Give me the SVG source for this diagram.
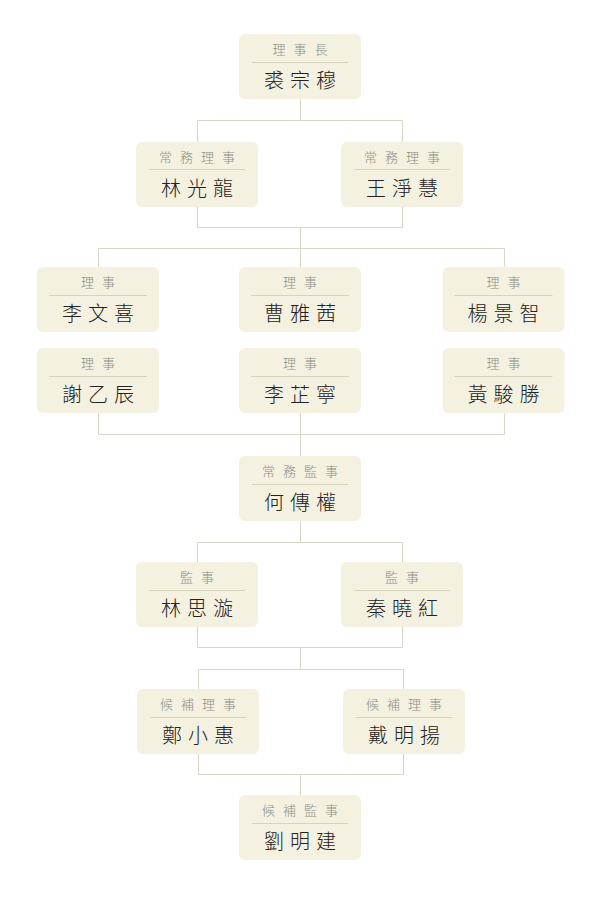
<svg xmlns="http://www.w3.org/2000/svg" width="600" height="900" viewBox="0 0 600 900">
<style>
.bg{fill:#ffffff}
.box{fill:#f4f1e1}
.div{stroke:#d8d4bc;stroke-width:1}
.conn{fill:none;stroke:#d9d6c9;stroke-width:1}
.lbl{font-family:"Noto Sans CJK TC","Noto Sans CJK SC",sans-serif;font-size:13px;font-weight:300;letter-spacing:8px;fill:#8e8e86;text-anchor:middle}
.nm{font-family:"Noto Sans CJK TC","Noto Sans CJK SC",sans-serif;font-size:20px;font-weight:300;letter-spacing:6px;fill:#222222;text-anchor:middle}
</style>
<defs>
<rect id="card" width="122" height="65" rx="6" ry="6" class="box"/>
</defs>
<rect class="bg" x="0" y="0" width="600" height="900"/>
<g id="connectors">
<path class="conn" d="M300.5 99 V120.5 M197.5 142 V120.5 H402.5 V142"/>
<path class="conn" d="M197.5 207 V227.5 H402.5 V207 M300.5 227.5 V267 M98.5 267 V248.5 H504.5 V267"/>
<path class="conn" d="M98.5 413 V434.5 H504.5 V413 M300.5 413 V456"/>
<path class="conn" d="M300.5 521 V542.5 M197.5 562 V542.5 H402.5 V562"/>
<path class="conn" d="M197.5 627 V647.5 H402.5 V627 M300.5 647.5 V669.5 M198.5 689 V669.5 H403.5 V689"/>
<path class="conn" d="M198.5 754 V774.5 H403.5 V754 M300.5 774.5 V795"/>
</g>
<g id="n-chair" transform="translate(239,34)">
<use href="#card"/><line class="div" x1="13" y1="28.5" x2="109" y2="28.5"/>
<text class="lbl" x="65" y="19.5">理事長</text><text class="nm" x="64" y="53.5">裘宗穆</text>
</g>
<g id="n-lin-guanglong" transform="translate(136,142)">
<use href="#card"/><line class="div" x1="13" y1="27.5" x2="109" y2="27.5"/>
<text class="lbl" x="65" y="19.5">常務理事</text><text class="nm" x="64" y="53.5">林光龍</text>
</g>
<g id="n-wang-jinghui" transform="translate(341,142)">
<use href="#card"/><line class="div" x1="13" y1="27.5" x2="109" y2="27.5"/>
<text class="lbl" x="65" y="19.5">常務理事</text><text class="nm" x="64" y="53.5">王淨慧</text>
</g>
<g id="n-li-wenxi" transform="translate(37,267)">
<use href="#card"/><line class="div" x1="12" y1="28.5" x2="110" y2="28.5"/>
<text class="lbl" x="65" y="19.5">理事</text><text class="nm" x="64" y="53.5">李文喜</text>
</g>
<g id="n-cao-yaxi" transform="translate(239,267)">
<use href="#card"/><line class="div" x1="12" y1="28.5" x2="110" y2="28.5"/>
<text class="lbl" x="65" y="19.5">理事</text><text class="nm" x="64" y="53.5">曹雅茜</text>
</g>
<g id="n-yang-jingzhi" transform="translate(442.5,267)">
<use href="#card"/><line class="div" x1="12" y1="28.5" x2="110" y2="28.5"/>
<text class="lbl" x="65" y="19.5">理事</text><text class="nm" x="64" y="53.5">楊景智</text>
</g>
<g id="n-xie-yichen" transform="translate(37,348)">
<use href="#card"/><line class="div" x1="12" y1="28.5" x2="110" y2="28.5"/>
<text class="lbl" x="65" y="19.5">理事</text><text class="nm" x="64" y="53.5">謝乙辰</text>
</g>
<g id="n-li-zhining" transform="translate(239,348)">
<use href="#card"/><line class="div" x1="12" y1="28.5" x2="110" y2="28.5"/>
<text class="lbl" x="65" y="19.5">理事</text><text class="nm" x="64" y="53.5">李芷寧</text>
</g>
<g id="n-huang-junsheng" transform="translate(442.5,348)">
<use href="#card"/><line class="div" x1="12" y1="28.5" x2="110" y2="28.5"/>
<text class="lbl" x="65" y="19.5">理事</text><text class="nm" x="64" y="53.5">黃駿勝</text>
</g>
<g id="n-he-chuanquan" transform="translate(239,456)">
<use href="#card"/><line class="div" x1="13" y1="28.5" x2="109" y2="28.5"/>
<text class="lbl" x="65" y="19.5">常務監事</text><text class="nm" x="64" y="53.5">何傳權</text>
</g>
<g id="n-lin-sixuan" transform="translate(136,562)">
<use href="#card"/><line class="div" x1="13" y1="28.5" x2="109" y2="28.5"/>
<text class="lbl" x="65" y="19.5">監事</text><text class="nm" x="64" y="53.5">林思漩</text>
</g>
<g id="n-qin-xiaohong" transform="translate(341,562)">
<use href="#card"/><line class="div" x1="13" y1="28.5" x2="109" y2="28.5"/>
<text class="lbl" x="65" y="19.5">監事</text><text class="nm" x="64" y="53.5">秦曉紅</text>
</g>
<g id="n-zheng-xiaohui" transform="translate(137,689)">
<use href="#card"/><line class="div" x1="13" y1="28.5" x2="109" y2="28.5"/>
<text class="lbl" x="65" y="19.5">候補理事</text><text class="nm" x="64" y="53.5">鄭小惠</text>
</g>
<g id="n-dai-mingyang" transform="translate(343,689)">
<use href="#card"/><line class="div" x1="13" y1="28.5" x2="109" y2="28.5"/>
<text class="lbl" x="65" y="19.5">候補理事</text><text class="nm" x="64" y="53.5">戴明揚</text>
</g>
<g id="n-liu-mingjian" transform="translate(239,795)">
<use href="#card"/><line class="div" x1="13" y1="28.5" x2="109" y2="28.5"/>
<text class="lbl" x="65" y="19.5">候補監事</text><text class="nm" x="64" y="53.5">劉明建</text>
</g>
</svg>
